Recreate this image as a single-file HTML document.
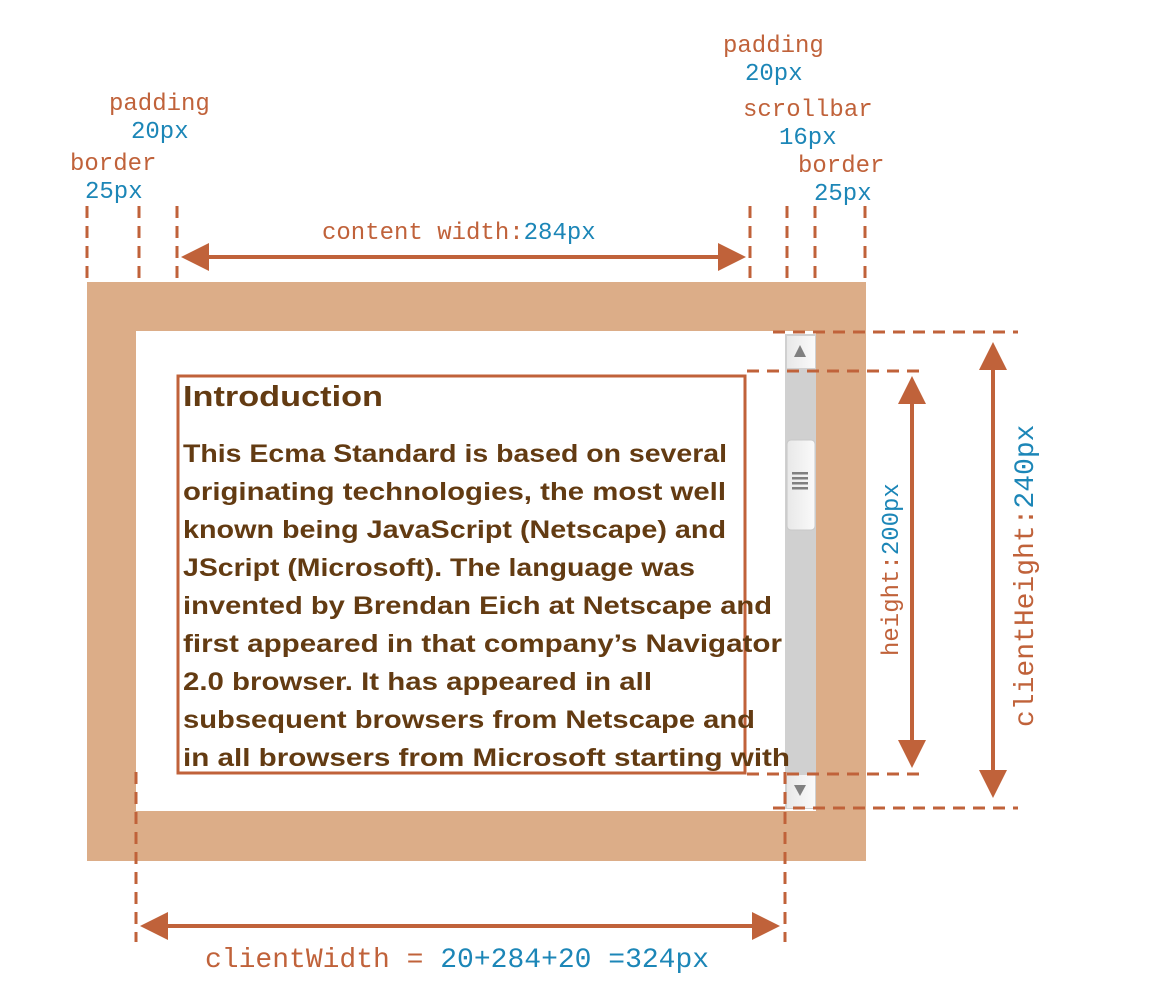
<!DOCTYPE html>
<html><head><meta charset="utf-8"><style>
html,body{margin:0;padding:0;background:#fff;}
svg{display:block;}
.l{font-family:"Liberation Mono",monospace;font-size:24px;fill:#c0623a;}
.L{font-size:28px;}
.b{fill:#1c86b7;}
.t{font-family:"Liberation Sans",sans-serif;font-weight:bold;font-size:25px;fill:#633b12;}
</style></head><body>
<svg width="1150" height="998" viewBox="0 0 1150 998">
<defs>
<linearGradient id="sg" x1="0" x2="1"><stop offset="0" stop-color="#e8e8e8"/><stop offset="1" stop-color="#fafafa"/></linearGradient>
</defs>
<rect x="87" y="282" width="779" height="579" fill="#dcad88"/>
<rect x="136" y="331" width="680" height="480" fill="#fff"/>
<rect x="785" y="334" width="31" height="475" fill="#d0d0d0"/>
<rect x="787" y="336" width="28" height="32" fill="url(#sg)"/>
<polygon points="800,345 794,357 806,357" fill="#808080"/>
<rect x="787" y="440" width="28" height="90" rx="4" fill="url(#sg)" stroke="#c8c8c8"/>
<g fill="#808080"><rect x="792" y="472" width="16" height="2.5"/><rect x="792" y="477" width="16" height="2.5"/><rect x="792" y="482" width="16" height="2.5"/><rect x="792" y="487" width="16" height="2.5"/></g>
<rect x="787" y="775" width="28" height="33" fill="url(#sg)"/>
<polygon points="794,785 806,785 800,796" fill="#808080"/>
<rect x="178" y="376" width="567" height="397" fill="none" stroke="#c0623a" stroke-width="3"/>
<text class="t" x="183" y="406" style="font-size:29px" textLength="200" lengthAdjust="spacingAndGlyphs">Introduction</text>
<g class="t">
<text x="183" y="462" textLength="544" lengthAdjust="spacingAndGlyphs">This Ecma Standard is based on several</text>
<text x="183" y="500" textLength="543" lengthAdjust="spacingAndGlyphs">originating technologies, the most well</text>
<text x="183" y="538" textLength="543" lengthAdjust="spacingAndGlyphs">known being JavaScript (Netscape) and</text>
<text x="183" y="576" textLength="512" lengthAdjust="spacingAndGlyphs">JScript (Microsoft). The language was</text>
<text x="183" y="614" textLength="589" lengthAdjust="spacingAndGlyphs">invented by Brendan Eich at Netscape and</text>
<text x="183" y="652" textLength="599" lengthAdjust="spacingAndGlyphs">first appeared in that company’s Navigator</text>
<text x="183" y="690" textLength="469" lengthAdjust="spacingAndGlyphs">2.0 browser. It has appeared in all</text>
<text x="183" y="728" textLength="572" lengthAdjust="spacingAndGlyphs">subsequent browsers from Netscape and</text>
<text x="183" y="766" textLength="607" lengthAdjust="spacingAndGlyphs">in all browsers from Microsoft starting with</text>
</g>
<g stroke="#c0623a" stroke-width="3" stroke-dasharray="12,8" fill="none">
<line x1="87" y1="206" x2="87" y2="286"/>
<line x1="139" y1="206" x2="139" y2="286"/>
<line x1="177" y1="206" x2="177" y2="286"/>
<line x1="750" y1="206" x2="750" y2="286"/>
<line x1="787" y1="206" x2="787" y2="286"/>
<line x1="815" y1="206" x2="815" y2="286"/>
<line x1="865" y1="206" x2="865" y2="286"/>
<line x1="773" y1="332" x2="1018" y2="332"/>
<line x1="747" y1="371" x2="920" y2="371"/>
<line x1="747" y1="774" x2="920" y2="774"/>
<line x1="773" y1="808" x2="1018" y2="808"/>
<line x1="136" y1="772" x2="136" y2="942"/>
<line x1="785" y1="772" x2="785" y2="942"/>
</g>
<g fill="#c0623a" stroke="none">
<rect x="205" y="255" width="517" height="4"/>
<polygon points="181,257 209,243 209,271"/>
<polygon points="746,257 718,243 718,271"/>
<rect x="910" y="400" width="4" height="345"/>
<polygon points="912,376 898,404 926,404"/>
<polygon points="912,768 898,740 926,740"/>
<rect x="991" y="365" width="4" height="410"/>
<polygon points="993,342 979,370 1007,370"/>
<polygon points="993,798 979,770 1007,770"/>
<rect x="165" y="924" width="590" height="4"/>
<polygon points="140,926 168,912 168,940"/>
<polygon points="780,926 752,912 752,940"/>
</g>
<text class="l" x="109" y="110">padding</text>
<text class="l b" x="131" y="138">20px</text>
<text class="l" x="70" y="170">border</text>
<text class="l b" x="85" y="198">25px</text>
<text class="l" x="723" y="52">padding</text>
<text class="l b" x="745" y="80">20px</text>
<text class="l" x="743" y="116">scrollbar</text>
<text class="l b" x="779" y="144">16px</text>
<text class="l" x="798" y="172">border</text>
<text class="l b" x="814" y="200">25px</text>
<text class="l" x="322" y="239">content width:<tspan class="b">284px</tspan></text>
<text class="l L" x="205" y="967">clientWidth = <tspan class="b">20+284+20 =324px</tspan></text>
<text class="l" transform="translate(898,656) rotate(-90)">height:<tspan class="b">200px</tspan></text>
<text class="l L" transform="translate(1033,727) rotate(-90)">clientHeight:<tspan class="b">240px</tspan></text>
</svg>
</body></html>
